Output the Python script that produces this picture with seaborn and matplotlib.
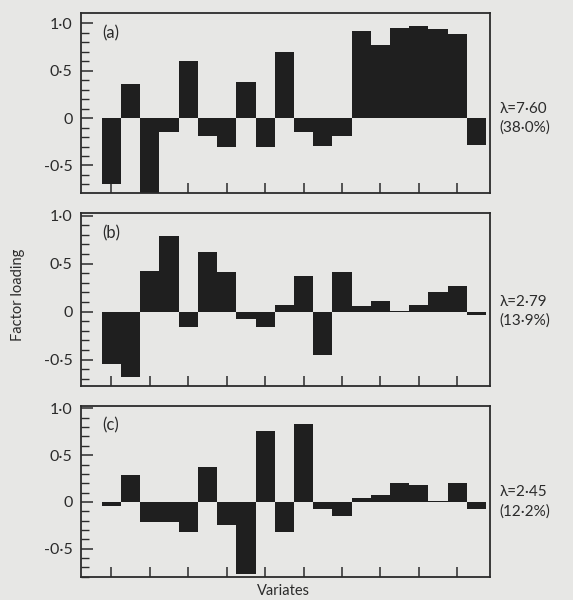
import numpy as np
import pandas as pd
import matplotlib
matplotlib.use("Agg")
import matplotlib.pyplot as plt
import matplotlib.transforms as mtransforms
from matplotlib.ticker import FixedLocator
import seaborn as sns

# ---- data ----
variates = list(range(1, 21))
loading_a = [-0.70, 0.36, -0.79, -0.15, 0.60, -0.19, -0.30, 0.38, -0.30, 0.70,
             -0.15, -0.29, -0.19, 0.92, 0.77, 0.95, 0.97, 0.94, 0.89, -0.28]
loading_b = [-0.54, -0.68, 0.42, 0.79, -0.16, 0.62, 0.41, -0.08, -0.16, 0.07,
             0.37, -0.45, 0.41, 0.06, 0.11, 0.005, 0.07, 0.21, 0.27, -0.035]
loading_c = [-0.04, 0.29, -0.21, -0.21, -0.32, 0.37, -0.25, -0.77, 0.76, -0.32,
             0.83, -0.08, -0.15, 0.04, 0.07, 0.20, 0.18, 0.005, 0.20, -0.08]
panel_labels = ["(a)", "(b)", "(c)"]
lambda_labels = ["\u03bb=7\u00b760\n(38\u00b70%)", "\u03bb=2\u00b779\n(13\u00b79%)", "\u03bb=2\u00b745\n(12\u00b72%)"]
ytick_values = [-0.5, 0.0, 0.5, 1.0]
ytick_labels = ["-0\u00b75", "0", "0\u00b75", "1\u00b70"]
minor_values = [-0.8, -0.7, -0.6, -0.4, -0.3, -0.2, -0.1, 0.1, 0.2, 0.3, 0.4, 0.6, 0.7, 0.8, 0.9]

sns.set_theme(style="ticks")
plt.rcParams["font.family"] = ["Lato", "DejaVu Sans"]

BG = "#e7e7e5"
INK = "#2b2b2b"
BAR = "#1f1f1f"

fig = plt.figure(figsize=(5.73, 6.0), dpi=100, facecolor=BG)

W, H = 573.0, 600.0
left, right = 81, 490
panels = [
    (12.7, 193.0, (-0.79, 1.11)),
    (213.3, 386.0, (-0.774, 1.025)),
    (406.0, 576.7, (-0.80, 1.026)),
]
datasets = [loading_a, loading_b, loading_c]

for i, ((top, bot, ylim), vals) in enumerate(zip(panels, datasets)):
    ax = fig.add_axes([left / W, 1 - bot / H, (right - left) / W, (bot - top) / H])
    ax.set_facecolor(BG)
    df = pd.DataFrame({"variate": variates, "loading": vals})
    sns.barplot(data=df, x="variate", y="loading", color=BAR, saturation=1,
                width=1.0, edgecolor="none", linewidth=0, ax=ax, errorbar=None)
    ax.set_xlim(-1.58, 19.7)
    ax.set_ylim(*ylim)
    ax.set_xlabel("")
    ax.set_ylabel("")
    ax.set_xticks(list(range(0, 20, 2)))
    ax.set_xticklabels([])
    ax.yaxis.set_major_locator(FixedLocator(ytick_values))
    ax.set_yticklabels(ytick_labels)
    ax.yaxis.set_minor_locator(FixedLocator(minor_values))
    ax.tick_params(axis="x", direction="in", length=7.5, width=1.1, color=INK)
    ax.tick_params(axis="y", which="major", direction="in", length=8.6, width=1.1,
                   color=INK, labelsize=11.5, labelcolor=INK, pad=6)
    ax.tick_params(axis="y", which="minor", direction="in", length=5.6, width=1.0, color=INK)
    for s in ax.spines.values():
        s.set_visible(True)
        s.set_color(INK)
        s.set_linewidth(1.3)
    ax.text(0.052, 0.885, panel_labels[i], transform=ax.transAxes, fontsize=12,
            color=INK, ha="left", va="center")
    trans = mtransforms.blended_transform_factory(ax.transAxes, ax.transData)
    ax.text(1.024, 0.0, lambda_labels[i], transform=trans, fontsize=11,
            color=INK, ha="left", va="center", linespacing=1.4)

fig.text(18 / W, 1 - 295 / H, "Factor loading", rotation=90, fontsize=10.5,
         color=INK, ha="center", va="center")
fig.text(283 / W, 1 - 591 / H, "Variates", fontsize=10.5, color=INK,
         ha="center", va="center")

fig.savefig("out.png", dpi=100, facecolor=BG)
